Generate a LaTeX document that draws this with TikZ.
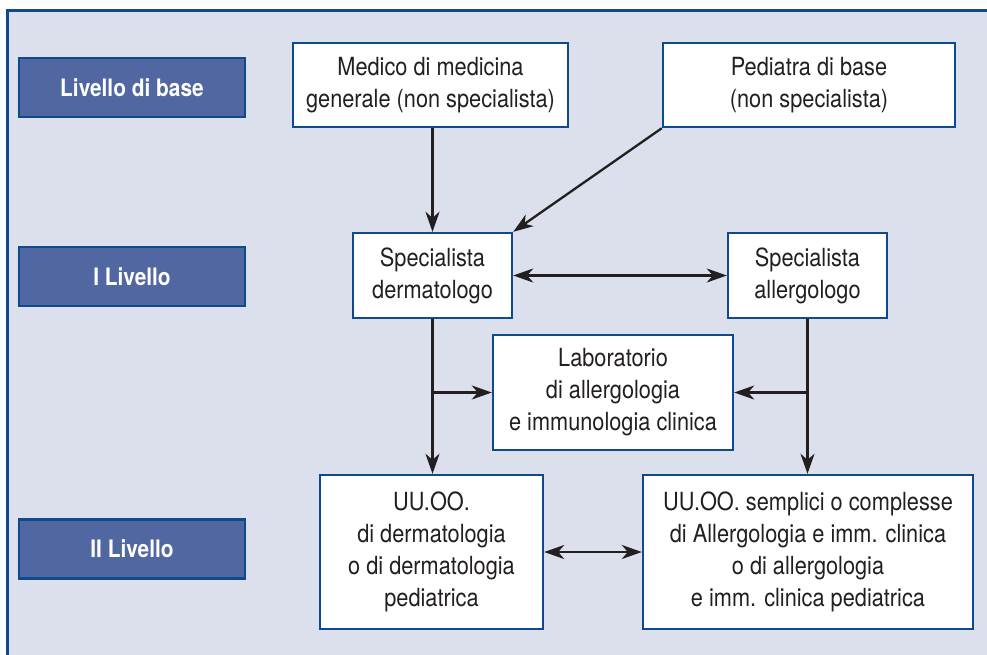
\documentclass[tikz,border=0pt]{standalone}
\usepackage{fontspec}
\setmainfont[FakeStretch=0.87]{TeX Gyre Heros}
\usetikzlibrary{arrows.meta}
\definecolor{bgc}{RGB}{220,224,237}
\definecolor{frm}{RGB}{16,74,142}
\definecolor{lvl}{RGB}{80,103,161}
\definecolor{txt}{RGB}{35,31,32}
\tikzset{
  box/.style={draw=frm, line width=2.4pt, fill=white, text=txt, align=center,
    inner sep=0pt, font=\fontsize{25}{32}\selectfont},
  lvlbox/.style={draw=frm, line width=2.8pt, fill=lvl, text=white, align=center,
    inner sep=0pt, minimum width=226pt, minimum height=59pt,
    font=\fontsize{24}{30}\selectfont\bfseries},
  conn/.style={draw=txt, line width=2.3pt},
  arr/.style={conn, -{Stealth[length=20pt,width=14pt,inset=6pt]}},
  darr/.style={conn, {Stealth[length=20pt,width=14pt,inset=6pt]}-{Stealth[length=20pt,width=14pt,inset=6pt]}}
}
\begin{document}
\begin{tikzpicture}[x=1pt,y=-1pt]
\useasboundingbox (0,0) rectangle (987,654);
\clip (0,0) rectangle (987,654);
\fill[white] (0,0) rectangle (987,654);
\draw[frm, line width=2.6pt, fill=bgc] (7.5,10.5) rectangle (1010,680);

\node[lvlbox] (L0) at (132,87.5) {Livello di base};
\node[lvlbox] (L1) at (132,276.5) {I Livello};
\node[lvlbox] (L2) at (132,549) {II Livello};

\node[box, minimum width=275pt, minimum height=84pt] (med) at (430.5,85) {Medico di medicina\\generale (non specialista)};
\node[box, minimum width=292pt, minimum height=84pt] (ped) at (809,85) {Pediatra di base\\(non specialista)};
\node[box, minimum width=159pt, minimum height=85pt] (sd) at (432.5,275.5) {Specialista\\dermatologo};
\node[box, minimum width=159pt, minimum height=85pt] (sa) at (807.5,275.5) {Specialista\\allergologo};
\node[box, minimum width=240pt, minimum height=115pt] (lab) at (613,392.5) {Laboratorio\\di allergologia\\e immunologia clinica};
\node[box, minimum width=223pt, minimum height=154pt] (uul) at (431.5,552) {UU.OO.\\di dermatologia\\o di dermatologia\\pediatrica};
\node[box, minimum width=330pt, minimum height=154pt] (uur) at (808,552) {UU.OO. semplici o complesse\\di Allergologia e imm. clinica\\o di allergologia\\e imm. clinica pediatrica};

\draw[arr] (sd.north |- med.south) -- (sd.north);
\draw[arr] (ped.south west) -- (sd.north east);
\draw[darr] (sd.east) -- (sa.west);

\coordinate (bl) at (sd.south |- lab.west);
\coordinate (br) at (sa.south |- lab.east);
\draw[arr] (sd.south) -- (sd.south |- uul.north);
\draw[arr] (bl) -- (lab.west);
\draw[arr] (sa.south) -- (sa.south |- uur.north);
\draw[arr] (br) -- (lab.east);
\draw[darr] (uul.east) -- (uur.west);
\end{tikzpicture}
\end{document}
